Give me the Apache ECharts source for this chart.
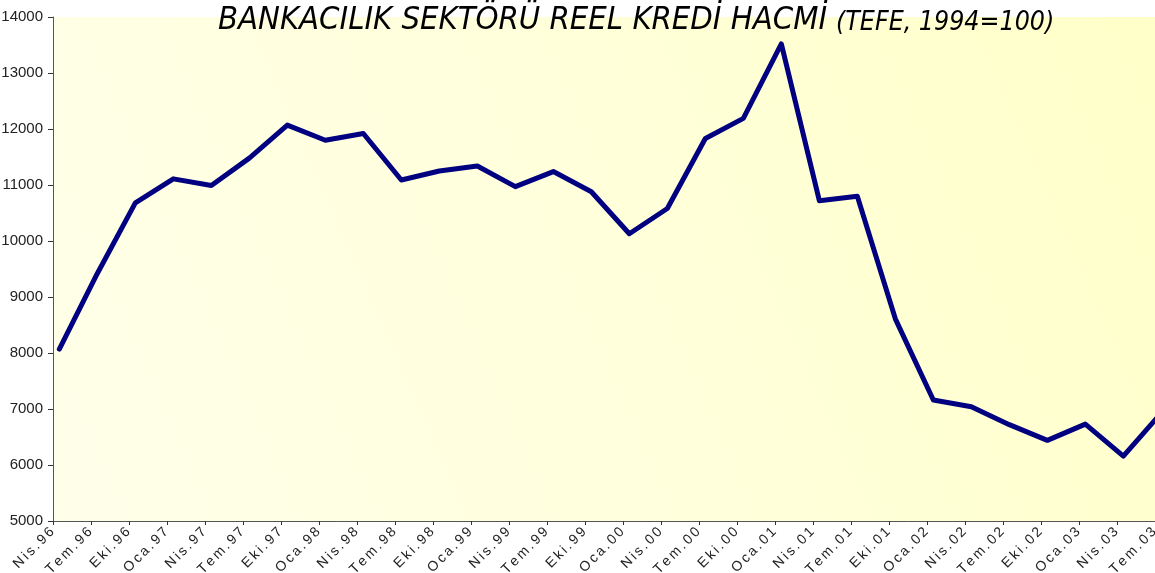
<!DOCTYPE html>
<html>
<head>
<meta charset="utf-8">
<script src="https://cdn.jsdelivr.net/npm/echarts@6/dist/echarts.min.js"></script>
<style>
html,body{margin:0;padding:0;overflow:hidden;background:#fff;}
#c{width:1193px;height:573px;}
</style>
</head>
<body>
<div id="c"></div>
<script>
const quarterLabels = ['Nis.96','Tem.96','Eki.96','Oca.97','Nis.97','Tem.97','Eki.97','Oca.98','Nis.98','Tem.98','Eki.98','Oca.99','Nis.99','Tem.99','Eki.99','Oca.00','Nis.00','Tem.00','Eki.00','Oca.01','Nis.01','Tem.01','Eki.01','Oca.02','Nis.02','Tem.02','Eki.02','Oca.03','Nis.03','Tem.03'];
const creditValues = [8070,9420,10680,11110,10990,11480,12070,11800,11920,11090,11250,11340,10970,11240,10880,10130,10580,11830,12190,13520,10720,10800,8610,7160,7040,6720,6440,6730,6160,6930];
const yTicks = {min:5000, max:14000, interval:1000};
const titleMain = 'BANKACILIK SEKTÖRÜ REEL KREDİ HACMİ';
const titleSub = '(TEFE, 1994=100)';

// monthly categories: each quarterly observation sits mid-month
const monthCats = [];
const monthData = [];
quarterLabels.forEach((q, i) => {
  monthCats.push(q, q + '|2', q + '|3');
  monthData.push(creditValues[i], null, null);
});
const tickCats = quarterLabels.concat(['']);

// spaced-out tick labels (per-character rich tokens)
function spaced(v) {
  if (!v) return '';
  return Array.from(v).map(ch => '{c|' + ch + '}').join('');
}

const titleFont = 'DejaVu Sans Condensed, Liberation Sans Narrow, sans-serif';
const chart = echarts.init(document.getElementById('c'), null, {renderer:'canvas'});
chart.setOption({
  animation:false,
  title:[
    {text:titleMain, left:213, top:-1,
     textStyle:{fontFamily:titleFont, fontStyle:'italic', fontWeight:'normal', fontSize:32.5, color:'#000'}},
    {text:titleSub, left:831, top:5,
     textStyle:{fontFamily:titleFont, fontStyle:'italic', fontWeight:'normal', fontSize:26.5, color:'#000'}}
  ],
  grid:{left:53, right:0, top:17, bottom:52, show:true, borderWidth:0,
    outerBoundsMode:'none', containLabel:false,
    backgroundColor:{type:'linear', x:0, y:1, x2:1, y2:0,
      colorStops:[{offset:0,color:'#FFFFEA'},{offset:0.5,color:'#FFFFDB'},{offset:1,color:'#FFFFC8'}]}},
  xAxis:[
    {type:'category', data:monthCats, boundaryGap:true, position:'bottom',
     axisLine:{show:true, lineStyle:{color:'#555', width:1}},
     axisTick:{show:false}, axisLabel:{show:false}, splitLine:{show:false}},
    {type:'category', data:tickCats, boundaryGap:false, position:'bottom',
     axisLine:{show:false},
     axisTick:{show:true, interval:0, length:4, lineStyle:{color:'#333'}},
     axisLabel:{show:true, interval:0, rotate:45, margin:8, formatter:spaced,
       rich:{c:{fontSize:14, fontFamily:'Liberation Sans, Arial, sans-serif', color:'#222', padding:[0,1.2,0,1.2]}}},
     splitLine:{show:false}}
  ],
  yAxis:{type:'value', min:yTicks.min, max:yTicks.max, interval:yTicks.interval,
    axisLine:{show:true, lineStyle:{color:'#555', width:1}},
    axisTick:{show:true, length:5, lineStyle:{color:'#333'}},
    axisLabel:{margin:10, fontSize:15, fontFamily:'Liberation Sans, Arial, sans-serif', color:'#222',
      formatter:v => String(v)},
    splitLine:{show:false}},
  series:[{type:'line', xAxisIndex:0, data:monthData, connectNulls:true,
    showSymbol:false, symbol:'none',
    lineStyle:{color:'#000080', width:5, join:'round', cap:'round'}}]
});
</script>
</body>
</html>
